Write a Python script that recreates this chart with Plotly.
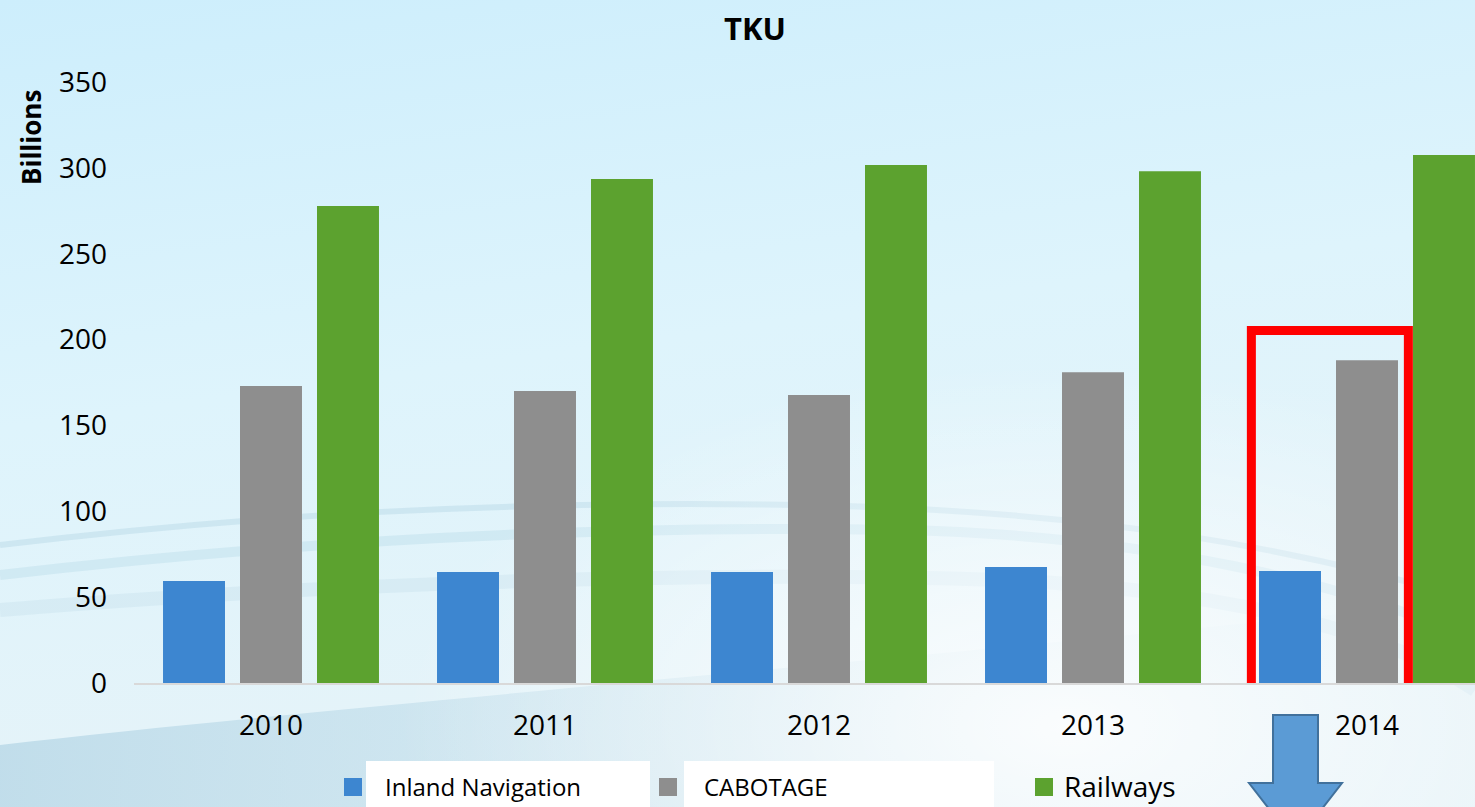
import base64
import plotly.graph_objects as go

years = ["2010", "2011", "2012", "2013", "2014"]
inland_navigation = [59.4, 64.6, 64.6, 67.6, 65.2]
cabotage = [173.0, 170.0, 167.7, 181.0, 188.0]
railways = [277.8, 293.5, 301.7, 298.0, 307.5]

W, H = 1475, 807
PL, PR, PT, PB = 134, 1475, 82, 683   # plot area in pixels
FONT = "Open Sans"


def px( x ):
    return ( x - PL ) / ( PR - PL )


def py( y ):
    return ( PB - y ) / ( PB - PT )


# light blue slide background as an svg
svg = f"""<svg xmlns='http://www.w3.org/2000/svg' width='{W}' height='{H}' viewBox='0 0 {W} {H}'>
<defs>
<linearGradient id='g' x1='0' y1='0' x2='0.25' y2='1'>
<stop offset='0' stop-color='#cdeefc'/>
<stop offset='0.5' stop-color='#def4fc'/>
<stop offset='1' stop-color='#e6f3f8'/>
</linearGradient>
<radialGradient id='h' cx='0.72' cy='0.9' r='0.45'>
<stop offset='0' stop-color='#ffffff' stop-opacity='0.85'/>
<stop offset='1' stop-color='#ffffff' stop-opacity='0'/>
</radialGradient>
<linearGradient id='b' x1='0' y1='0' x2='1' y2='0'>
<stop offset='0' stop-color='#b8d8e7' stop-opacity='0.8'/>
<stop offset='0.55' stop-color='#c6e1ed' stop-opacity='0.45'/>
<stop offset='1' stop-color='#d6ecf5' stop-opacity='0.1'/>
</linearGradient>
</defs>
<rect width='{W}' height='{H}' fill='url(#g)'/>
<path d='M0,745 C350,705 800,670 1475,600 L1475,807 L0,807 Z' fill='url(#b)'/>
<path d='M0,545 C250,515 500,500 800,505 C1100,510 1300,550 1475,600' fill='none' stroke='#a9cfe0' stroke-opacity='0.35' stroke-width='6'/>
<path d='M0,575 C300,540 600,525 900,530 C1150,535 1350,585 1475,640' fill='none' stroke='#b3d6e5' stroke-opacity='0.35' stroke-width='10'/>
<path d='M0,610 C300,585 700,570 1000,580 C1250,590 1400,640 1475,690' fill='none' stroke='#bcdbe8' stroke-opacity='0.3' stroke-width='14'/>
<rect width='{W}' height='{H}' fill='url(#h)'/>
</svg>"""
bg_src = "data:image/svg+xml;base64," + base64.b64encode( svg.encode() ).decode()

fig = go.Figure()
fig.add_trace( go.Bar( x=years, y=inland_navigation, name="Inland Navigation",
                       marker={ "color" : "#3d86d0", "line" : { "width" : 0 } } ) )
fig.add_trace( go.Bar( x=years, y=cabotage, name="CABOTAGE",
                       marker={ "color" : "#8e8e8e", "line" : { "width" : 0 } } ) )
fig.add_trace( go.Bar( x=years, y=railways, name="Railways",
                       marker={ "color" : "#5ca22f", "line" : { "width" : 0 } } ) )

fig.update_layout( barmode="group", bargap=0.157, bargroupgap=0.195,
                   width=W, height=H, showlegend=False,
                   margin={ "l" : PL, "r" : W - PR, "t" : PT, "b" : H - PB },
                   plot_bgcolor="rgba(0,0,0,0)", paper_bgcolor="#dff3fb",
                   font={ "family" : FONT, "color" : "#000000" } )

fig.update_xaxes( type="category", range=[-0.5, -0.5 + ( PR - PL ) / 274.0],
                  showline=True, linecolor="#d9d9d9", linewidth=2,
                  ticks="", ticklabelstandoff=16, tickfont={ "size" : 28 },
                  showgrid=False, zeroline=False )
fig.update_yaxes( range=[0, 350], dtick=50, showgrid=False, zeroline=False,
                  showline=False, ticks="", ticklabelstandoff=26,
                  tickfont={ "size" : 28 } )

fig.add_layout_image( source=bg_src, xref="paper", yref="paper",
                      x=px( 0 ), y=py( 0 ), sizex=px( W ) - px( 0 ), sizey=py( 0 ) - py( H ),
                      sizing="stretch", xanchor="left", yanchor="top", layer="below" )

# titles
fig.add_annotation( text="<b>TKU</b>", x=px( 755 ), y=py( 28 ), xref="paper", yref="paper",
                    xanchor="center", yanchor="middle", showarrow=False, font={ "size" : 31 } )
fig.add_annotation( text="<b>Billions</b>", x=px( 31 ), y=py( 138 ), xref="paper", yref="paper",
                    xanchor="center", yanchor="middle", textangle=-90, showarrow=False,
                    font={ "size" : 26 } )

# red highlight box around 2014
fig.add_shape( type="rect", xref="x", yref="y", x0=3.578, x1=4.151, y0=-4.95, y1=205.3,
               line={ "color" : "#ff0000", "width" : 9 }, fillcolor="rgba(0,0,0,0)" )

# blue arrow pointing down
pts = [ ( 1273, 715 ), ( 1318, 715 ), ( 1318, 783 ), ( 1342, 783 ), ( 1295.5, 843 ),
        ( 1249, 783 ), ( 1273, 783 ) ]
path = "M " + " L ".join( f"{px( a ):.5f},{py( b ):.5f}" for a, b in pts ) + " Z"
fig.add_shape( type="path", xref="paper", yref="paper", path=path,
               fillcolor="#5b9bd5", line={ "color" : "#41719c", "width" : 2 } )

# legend drawn by hand (white boxes behind first two labels)
for x0, x1 in [ ( 366, 650 ), ( 684, 994 ) ]:
    fig.add_shape( type="rect", xref="paper", yref="paper", x0=px( x0 ), x1=px( x1 ),
                   y0=py( 761 ), y1=py( 810 ), fillcolor="#ffffff", line={ "width" : 0 } )

legend_items = [ ( "Inland Navigation", "#3d86d0", 344, 383, 24 ),
                 ( "CABOTAGE", "#8e8e8e", 659, 702, 24 ),
                 ( "Railways", "#5ca22f", 1035, 1062, 28 ) ]
for label, col, sx, tx, size in legend_items:
    fig.add_shape( type="rect", xref="paper", yref="paper", x0=px( sx ), x1=px( sx + 18 ),
                   y0=py( 796 ), y1=py( 778 ), fillcolor=col, line={ "width" : 0 } )
    fig.add_annotation( text=label, x=px( tx ), y=py( 786 ), xref="paper", yref="paper",
                        xanchor="left", yanchor="middle", showarrow=False,
                        font={ "size" : size } )

fig.write_html( "out.html", config={ "displayModeBar" : False },
                post_script="document.body.style.margin='0px';" )
